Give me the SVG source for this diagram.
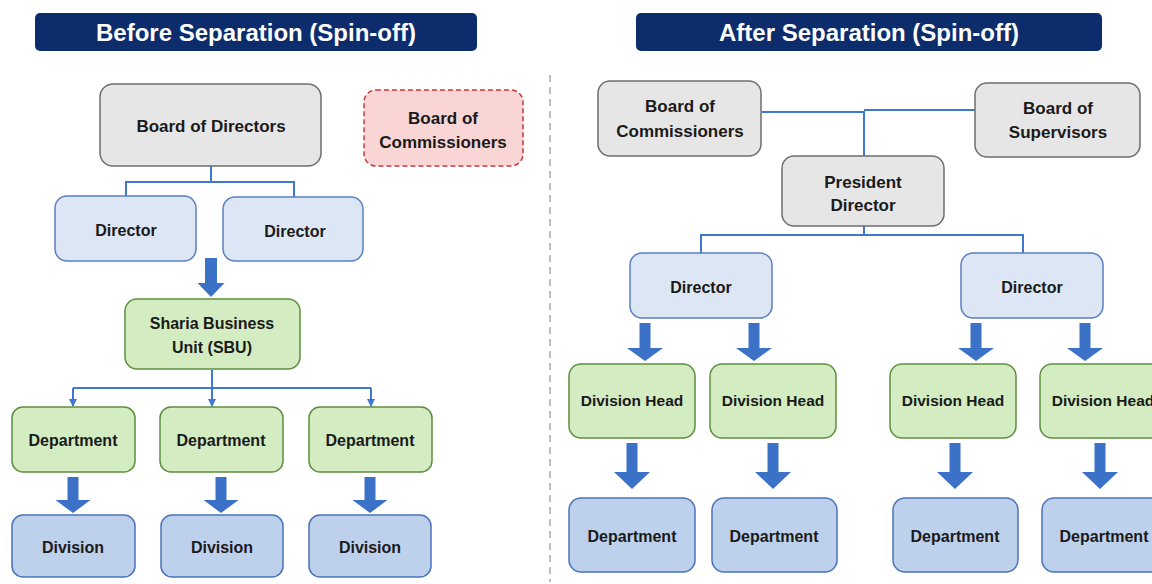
<svg xmlns="http://www.w3.org/2000/svg" width="1152" height="584" viewBox="0 0 1152 584">
<style>
text{font-family:"Liberation Sans",Arial,sans-serif;font-weight:bold;fill:#1a1a1a;text-anchor:middle}
.title{fill:#ffffff;font-size:24px}
.bar{fill:#0c2c6c}
.gray{fill:#e6e6e6;stroke:#6e6e6e;stroke-width:1.5}
.pink{fill:#f9d5d5;stroke:#c83a3a;stroke-width:1.5;stroke-dasharray:5,3}
.lblue{fill:#dce6f4;stroke:#5a7fc0;stroke-width:1.5}
.green{fill:#d3ecc2;stroke:#5e8e3e;stroke-width:1.5}
.blue{fill:#bdd0ec;stroke:#4b72b9;stroke-width:1.5}
.t17{font-size:17px}
.t16{font-size:16px}
.t15{font-size:15.5px}
.conn{fill:none;stroke:#3f78d0;stroke-width:2}
.barrow{fill:#3b72c8}
</style>
<defs>
<marker id="tip" viewBox="0 0 8 8" refX="7" refY="4" markerWidth="4" markerHeight="4" orient="auto" markerUnits="strokeWidth">
<path d="M0,0 L8,4 L0,8 z" fill="#3f78d0"/>
</marker>
</defs>
<rect width="1152" height="584" fill="#ffffff"/>

<g id="title-before">
<rect class="bar" x="35" y="13" width="442" height="38" rx="5"/>
<text class="title" x="256" y="41">Before Separation (Spin-off)</text>
</g>
<g id="title-after">
<rect class="bar" x="636" y="13" width="466" height="38" rx="5"/>
<text class="title" x="869" y="41">After Separation (Spin-off)</text>
</g>

<line id="divider" x1="550" y1="75" x2="550" y2="582" stroke="#a8a8a8" stroke-width="1.5" stroke-dasharray="7,5"/>

<g id="connectors">
<path class="conn" d="M211,166 V182 M126,196 V182 H294 V197"/>
<path class="conn" d="M212,370 V388"/>
<path class="conn" d="M73,388 H371"/>
<path class="conn" d="M73,388 V406" marker-end="url(#tip)"/>
<path class="conn" d="M212,388 V406" marker-end="url(#tip)"/>
<path class="conn" d="M371,388 V406" marker-end="url(#tip)"/>
<path class="conn" d="M762,112 H864 V156 M975,110 H864"/>
<path class="conn" d="M864,226 V235 M701,253 V235 H1023 V253"/>
<path class="barrow" d="M205,258 h12 v25 h7.5 l-13.5,14 l-13.5,-14 h7.5 z"/>
<path class="barrow" d="M67.5,477 h11 v23 h12 l-17.5,13 l-17.5,-13 h12 z"/>
<path class="barrow" d="M215.5,477 h11 v23 h12 l-17.5,13 l-17.5,-13 h12 z"/>
<path class="barrow" d="M364.5,477 h11 v23 h12 l-17.5,13 l-17.5,-13 h12 z"/>
<path class="barrow" d="M639.5,323 h11 v25 h12.5 l-18,13 l-18,-13 h12.5 z"/>
<path class="barrow" d="M748.5,323 h11 v25 h12.5 l-18,13 l-18,-13 h12.5 z"/>
<path class="barrow" d="M970.5,323 h11 v25 h12.5 l-18,13 l-18,-13 h12.5 z"/>
<path class="barrow" d="M1079.5,323 h11 v25 h12.5 l-18,13 l-18,-13 h12.5 z"/>
<path class="barrow" d="M626.5,443 h11 v29 h12.5 l-18,17 l-18,-17 h12.5 z"/>
<path class="barrow" d="M767.5,443 h11 v29 h12.5 l-18,17 l-18,-17 h12.5 z"/>
<path class="barrow" d="M949.5,443 h11 v29 h12.5 l-18,17 l-18,-17 h12.5 z"/>
<path class="barrow" d="M1094.5,443 h11 v29 h12.5 l-18,17 l-18,-17 h12.5 z"/>
</g>

<g id="before-board-directors">
<rect class="gray" x="100" y="84" width="221" height="82" rx="13"/>
<text class="t17" x="211" y="132">Board of Directors</text>
</g>
<g id="before-board-commissioners">
<rect class="pink" x="364" y="90" width="159" height="76" rx="12"/>
<text class="t17" x="443" y="124">Board of</text>
<text class="t17" x="443" y="148">Commissioners</text>
</g>
<g id="before-director-1">
<rect class="lblue" x="55" y="196" width="141" height="65" rx="12"/>
<text class="t16" x="126" y="236">Director</text>
</g>
<g id="before-director-2">
<rect class="lblue" x="223" y="197" width="140" height="64" rx="12"/>
<text class="t16" x="295" y="237">Director</text>
</g>
<g id="before-sbu">
<rect class="green" x="125" y="299" width="175" height="70" rx="12"/>
<text class="t16" x="212" y="329">Sharia Business</text>
<text class="t16" x="212" y="353">Unit (SBU)</text>
</g>
<g id="before-department-1">
<rect class="green" x="12" y="407" width="123" height="65" rx="11"/>
<text class="t16" x="73" y="446">Department</text>
</g>
<g id="before-department-2">
<rect class="green" x="160" y="407" width="123" height="65" rx="11"/>
<text class="t16" x="221" y="446">Department</text>
</g>
<g id="before-department-3">
<rect class="green" x="309" y="407" width="123" height="65" rx="11"/>
<text class="t16" x="370" y="446">Department</text>
</g>
<g id="before-division-1">
<rect class="blue" x="12" y="515" width="123" height="62" rx="11"/>
<text class="t16" x="73" y="553">Division</text>
</g>
<g id="before-division-2">
<rect class="blue" x="161" y="515" width="122" height="62" rx="11"/>
<text class="t16" x="222" y="553">Division</text>
</g>
<g id="before-division-3">
<rect class="blue" x="309" y="515" width="122" height="62" rx="11"/>
<text class="t16" x="370" y="553">Division</text>
</g>

<g id="after-board-commissioners">
<rect class="gray" x="598" y="81" width="163" height="75" rx="12"/>
<text class="t17" x="680" y="112">Board of</text>
<text class="t17" x="680" y="137">Commissioners</text>
</g>
<g id="after-board-supervisors">
<rect class="gray" x="975" y="83" width="165" height="74" rx="12"/>
<text class="t17" x="1058" y="114">Board of</text>
<text class="t17" x="1058" y="138">Supervisors</text>
</g>
<g id="after-president-director">
<rect class="gray" x="782" y="156" width="162" height="70" rx="12"/>
<text class="t17" x="863" y="188">President</text>
<text class="t17" x="863" y="211">Director</text>
</g>
<g id="after-director-1">
<rect class="lblue" x="630" y="253" width="142" height="65" rx="12"/>
<text class="t16" x="701" y="293">Director</text>
</g>
<g id="after-director-2">
<rect class="lblue" x="961" y="253" width="142" height="65" rx="12"/>
<text class="t16" x="1032" y="293">Director</text>
</g>
<g id="after-division-head-1">
<rect class="green" x="569" y="364" width="126" height="74" rx="12"/>
<text class="t15" x="632" y="406">Division Head</text>
</g>
<g id="after-division-head-2">
<rect class="green" x="710" y="364" width="126" height="74" rx="12"/>
<text class="t15" x="773" y="406">Division Head</text>
</g>
<g id="after-division-head-3">
<rect class="green" x="890" y="364" width="126" height="74" rx="12"/>
<text class="t15" x="953" y="406">Division Head</text>
</g>
<g id="after-division-head-4">
<rect class="green" x="1040" y="364" width="126" height="74" rx="12"/>
<text class="t15" x="1103" y="406">Division Head</text>
</g>
<g id="after-department-1">
<rect class="blue" x="569" y="498" width="126" height="74" rx="12"/>
<text class="t16" x="632" y="542">Department</text>
</g>
<g id="after-department-2">
<rect class="blue" x="712" y="498" width="125" height="74" rx="12"/>
<text class="t16" x="774" y="542">Department</text>
</g>
<g id="after-department-3">
<rect class="blue" x="893" y="498" width="125" height="74" rx="12"/>
<text class="t16" x="955" y="542">Department</text>
</g>
<g id="after-department-4">
<rect class="blue" x="1042" y="498" width="126" height="74" rx="12"/>
<text class="t16" x="1104" y="542">Department</text>
</g>
</svg>
